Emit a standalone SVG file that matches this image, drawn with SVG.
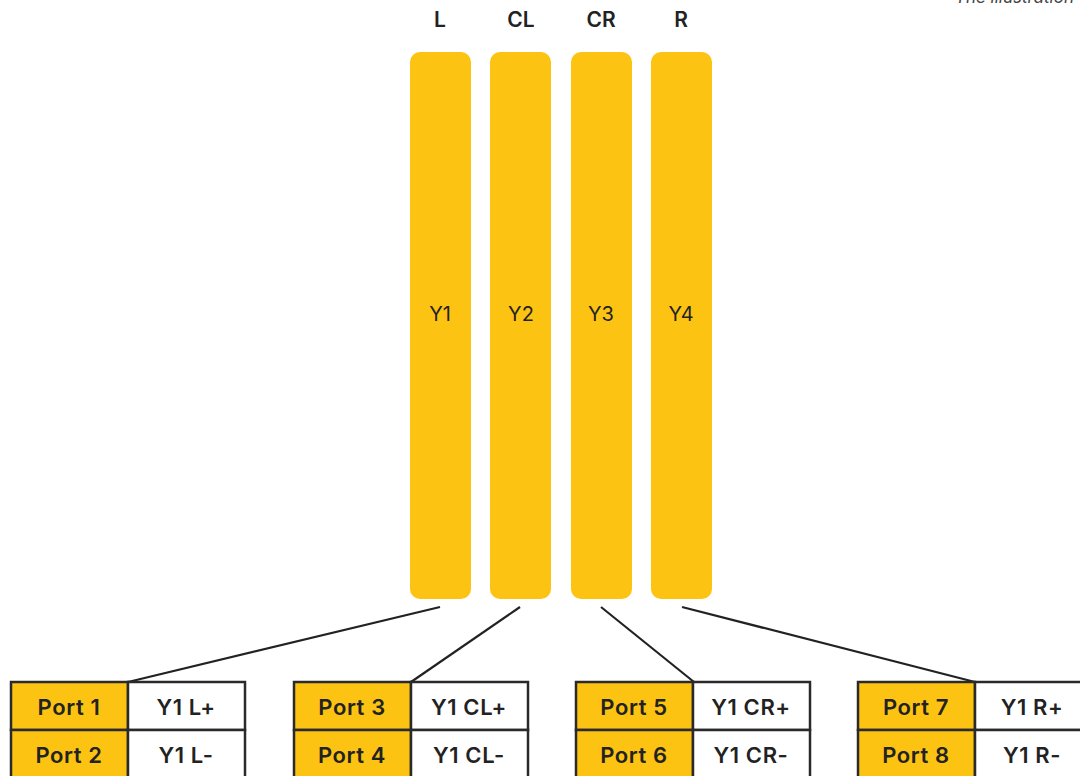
<svg xmlns="http://www.w3.org/2000/svg" width="1080" height="776" viewBox="0 0 1080 776">
<style>
.bar{fill:#FDC312}
.hdr{font-family:Inter,"Noto Sans",sans-serif;font-weight:600;font-size:21px;fill:#222;text-anchor:middle}
.ylab{font-family:Inter,"Noto Sans",sans-serif;font-size:20px;fill:#222;text-anchor:middle}
.cell{stroke:#2a2a2a;stroke-width:2.5}
.port{fill:#FDC312}
.sig{fill:#fff}
.ct{font-family:Inter,"Noto Sans",sans-serif;font-weight:600;font-size:22px;letter-spacing:0.6px;fill:#222;text-anchor:middle}
.conn{stroke:#222;stroke-width:2.2;fill:none}
.note{font-family:Inter,"Noto Sans",sans-serif;font-style:italic;font-size:17px;fill:#444;text-anchor:end}
</style>
<rect width="1080" height="776" fill="#fff"/>
<text class="note" x="1074" y="3">The illustration</text>
<g id="bar-L">
<text class="hdr" x="440" y="27">L</text>
<rect class="bar" x="410" y="52" width="61" height="547" rx="10"/>
<text class="ylab" x="440" y="321">Y1</text>
</g>
<g id="bar-CL">
<text class="hdr" x="521" y="27">CL</text>
<rect class="bar" x="490" y="52" width="61" height="547" rx="10"/>
<text class="ylab" x="521" y="321">Y2</text>
</g>
<g id="bar-CR">
<text class="hdr" x="601" y="27">CR</text>
<rect class="bar" x="571" y="52" width="61" height="547" rx="10"/>
<text class="ylab" x="601" y="321">Y3</text>
</g>
<g id="bar-R">
<text class="hdr" x="681" y="27">R</text>
<rect class="bar" x="651" y="52" width="61" height="547" rx="10"/>
<text class="ylab" x="681" y="321">Y4</text>
</g>
<g id="connectors">
<line class="conn" x1="440" y1="607" x2="128" y2="682"/>
<line class="conn" x1="520" y1="607" x2="411" y2="682"/>
<line class="conn" x1="601" y1="607" x2="694" y2="682"/>
<line class="conn" x1="682" y1="607" x2="975" y2="682"/>
</g>
<g id="table-L">
<rect class="cell port" x="11" y="682" width="117" height="48"/>
<rect class="cell sig" x="128" y="682" width="117" height="48"/>
<rect class="cell port" x="11" y="730" width="117" height="48"/>
<rect class="cell sig" x="128" y="730" width="117" height="48"/>
<text class="ct" x="69" y="715">Port 1</text>
<text class="ct" x="186" y="715">Y1 L+</text>
<text class="ct" x="69" y="763">Port 2</text>
<text class="ct" x="186" y="763">Y1 L-</text>
</g>
<g id="table-CL">
<rect class="cell port" x="294" y="682" width="117" height="48"/>
<rect class="cell sig" x="411" y="682" width="117" height="48"/>
<rect class="cell port" x="294" y="730" width="117" height="48"/>
<rect class="cell sig" x="411" y="730" width="117" height="48"/>
<text class="ct" x="352" y="715">Port 3</text>
<text class="ct" x="469" y="715">Y1 CL+</text>
<text class="ct" x="352" y="763">Port 4</text>
<text class="ct" x="469" y="763">Y1 CL-</text>
</g>
<g id="table-CR">
<rect class="cell port" x="576" y="682" width="117" height="48"/>
<rect class="cell sig" x="693" y="682" width="117" height="48"/>
<rect class="cell port" x="576" y="730" width="117" height="48"/>
<rect class="cell sig" x="693" y="730" width="117" height="48"/>
<text class="ct" x="634" y="715">Port 5</text>
<text class="ct" x="751" y="715">Y1 CR+</text>
<text class="ct" x="634" y="763">Port 6</text>
<text class="ct" x="751" y="763">Y1 CR-</text>
</g>
<g id="table-R">
<rect class="cell port" x="858" y="682" width="117" height="48"/>
<rect class="cell sig" x="975" y="682" width="117" height="48"/>
<rect class="cell port" x="858" y="730" width="117" height="48"/>
<rect class="cell sig" x="975" y="730" width="117" height="48"/>
<text class="ct" x="916" y="715">Port 7</text>
<text class="ct" x="1032" y="715">Y1 R+</text>
<text class="ct" x="916" y="763">Port 8</text>
<text class="ct" x="1032" y="763">Y1 R-</text>
</g>
</svg>
